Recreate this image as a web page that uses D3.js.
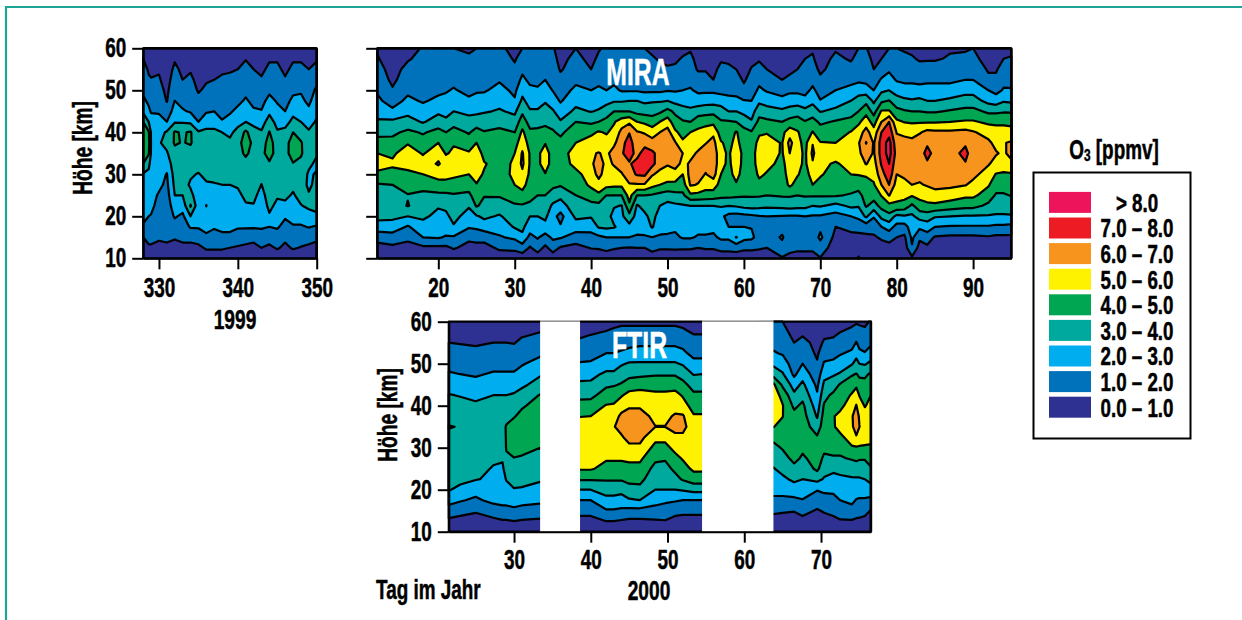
<!DOCTYPE html>
<html>
<head>
<meta charset="utf-8">
<script src="https://cdn.jsdelivr.net/npm/d3@7"></script>
<style>
    html, body { margin: 0; padding: 0; background: #fff; }
    svg { display: block; }
    text { font-family: "Liberation Sans", sans-serif; font-weight: bold; fill: #000; stroke: #000; stroke-width: .5px; }
    .tick text { font-size: 27px; }
    .axis path, .axis line { stroke: #000; stroke-width: 2px; }
    .contour { stroke: #000; stroke-width: 2.2px; stroke-linejoin: round; }
</style>
</head>
<body>
<div id="chart"></div>
<script>

// altitude rows of every grid, km
const altitudes = [10,12.5,15,17.5,20,22.5,25,27.5,30,32.5,35,37.5,40,42.5,45,47.5,50,52.5,55,57.5,60];

const levels = [0,1,2,3,4,5,6,7,8];
const levelColors = ["#2e3192","#0072bc","#00aeef","#00a99d","#00a651","#fff200","#f7941d","#ed1c24","#ed145b"];

const altTicks = [10,20,30,40,50,60];
const legendLabels = ["> 8.0","7.0 – 8.0","6.0 – 7.0","5.0 – 6.0","4.0 – 5.0","3.0 – 4.0","2.0 – 3.0","1.0 – 2.0","0.0 – 1.0"];
const legendColors = ["#ed145b","#ed1c24","#f7941d","#fff200","#00a651","#00a99d","#00aeef","#0072bc","#2e3192"];

// 1999 panel, one row of ppmv per day
const days1999 = [328,328.7,329,330,331,332,333,334,335,336,337,338,339,340,341,342,343,344,345,346,347,348,349,350];
const ticks1999 = [330,340,350];
const grid1999 = [
[.4,.7,1.0,1.9,2.2,2.4,2.5,2.6,2.9,4.0,4.5,4.7,4.4,4.0,2.8,2.2,1.8,1.6,1.3,1.0,.7],
[.5,.9,1.2,1.8,2.0,2.2,2.4,2.5,2.8,3.2,4.1,4.3,4.1,3.0,2.2,1.8,1.6,1.1,.9,.7,.5],
[.5,.9,1.2,1.6,1.95,2.2,2.3,2.4,2.5,2.7,2.9,2.95,2.9,2.5,1.9,1.7,1.4,1.05,.8,.6,.4],
[.4,.8,1.1,1.3,1.5,1.7,1.9,2.2,2.4,2.6,2.8,2.9,2.7,2.3,1.9,1.6,1.3,1.1,.9,.7,.5],
[.5,.9,1.1,1.3,1.4,1.5,1.6,1.8,1.95,2.4,2.9,3.3,3.1,2.0,1.4,.95,.8,.6,.5,.4,.3],
[.3,.6,1.1,1.6,2.1,2.5,3.0,3.2,3.4,3.6,3.7,4.1,4.1,2.9,2.4,2.0,1.7,1.5,1.2,.9,.7],
[.4,.8,1.2,1.5,1.8,2.4,3.0,3.3,3.5,3.6,3.7,3.95,3.9,2.9,2.1,1.7,1.4,1.0,.8,.6,.4],
[.4,.8,1.2,2.1,3.0,4.1,3.2,2.9,3.1,3.5,3.6,4.1,4.1,2.8,1.9,1.7,1.5,1.2,.9,.7,.5],
[.4,.8,1.4,2.1,2.3,2.4,2.6,2.8,2.95,3.3,3.5,3.4,3.1,2.0,1.7,1.3,.9,.7,.6,.4,.3],
[.5,1.1,1.8,2.3,2.6,3.02,2.7,2.9,3.2,3.4,3.5,3.4,3.2,2.6,1.9,1.5,1.2,.9,.7,.5,.3],
[.5,1.1,1.6,2.1,2.3,2.5,2.7,2.95,3.2,3.4,3.5,3.4,3.2,2.6,2.0,1.6,1.3,1.0,.8,.6,.4],
[.5,1.1,1.8,2.2,2.4,2.6,2.8,3.0,3.3,3.5,3.5,3.3,3.0,2.05,1.8,1.6,1.4,1.1,.9,.7,.5],
[.5,1.0,1.8,2.2,2.4,2.6,2.8,3.0,3.4,3.6,3.6,3.2,2.8,2.3,1.9,1.7,1.4,1.2,.9,.7,.5],
[.4,.9,1.5,2.1,2.3,2.6,2.8,3.1,3.4,3.7,3.8,3.7,3.3,2.7,2.2,1.8,1.6,1.3,1.0,.8,.6],
[.4,.8,1.4,2.1,2.5,2.9,3.2,3.4,3.6,3.8,4.1,4.4,4.2,3.0,2.5,2.1,1.8,1.6,1.3,.95,.7],
[.4,.7,1.3,2.1,2.5,2.95,3.2,3.4,3.5,3.7,3.8,3.8,3.4,2.7,2.1,1.8,1.5,1.3,1.0,.8,.6],
[.4,1.0,1.6,2.1,2.3,2.5,2.7,2.98,3.3,3.6,3.8,3.5,3.1,2.6,2.05,1.7,1.4,1.1,.8,.6,.4],
[.4,.8,1.4,2.0,2.9,3.2,3.4,3.6,3.7,3.9,4.3,4.4,4.05,3.4,2.8,2.3,1.8,1.6,1.2,.9,.6],
[.4,1.1,1.6,2.1,2.4,2.8,3.1,3.3,3.5,3.6,3.7,3.5,3.1,2.7,2.3,1.9,1.6,1.4,1.2,.9,.6],
[.4,.8,1.2,1.7,2.1,2.8,3.2,3.4,3.5,3.6,3.7,3.6,3.3,2.6,2.0,1.7,1.4,1.1,.8,.6,.4],
[.4,1.1,1.5,1.95,2.2,2.6,2.9,3.2,3.6,3.95,4.4,4.5,4.0,3.3,2.7,2.2,1.8,1.6,1.2,.9,.6],
[.4,.95,1.4,1.9,2.4,2.95,3.3,3.5,3.6,3.8,4.1,4.1,3.5,3.0,2.6,2.2,1.9,1.6,1.2,.9,.6],
[.4,.8,1.4,2.05,2.6,3.2,3.1,2.8,2.85,3.2,3.5,3.3,3.1,2.7,2.2,1.8,1.5,1.2,1.0,.7,.5],
[.4,.7,1.2,1.9,2.8,3.3,3.4,3.3,3.1,2.8,3.1,3.4,3.3,3.1,2.8,2.5,2.2,1.7,1.3,.9,.6]
];

// MIRA panel (2000)
const daysMira = [12,14,16,18,20,21,22,24,25,26,28,30,31,32,33,34,35,36,38,40,41,42,43,44,45,46,47,48,49,50,51,52,53,54,55,56,57,58,59,60,61,62,63,65,66,67,68,69,70,72,74,75,76,77,78,79,80,81,82,83,84,85,87,89,90,92,93,94,95];
const ticksMira = [20,30,40,50,60,70,80,90];
const gridMira = [
[.5,.8,1.2,2.7,3.2,3.5,3.7,3.9,4.8,5.4,5.0,4.4,3.7,3.1,2.7,2.2,1.9,1.6,1.4,1.1,.9],
[.4,.8,1.5,2.6,3.2,3.5,3.7,4.0,4.6,5.2,4.8,4.3,3.8,3.2,2.2,1.6,1.1,.8,.6,.4,.3],
[.4,.7,1.2,1.9,3.0,4.05,3.95,4.4,4.8,5.3,5.6,4.9,4.2,3.4,2.7,2.2,1.8,1.5,1.3,.9,.6],
[.4,.8,2.0,2.6,3.2,3.5,3.8,4.3,5.0,5.5,4.9,4.4,3.9,2.9,2.4,1.9,1.7,1.6,1.5,1.3,1.1],
[.4,.8,2.1,2.4,2.7,3.1,3.8,4.6,5.4,6.1,5.7,5.0,4.3,3.5,2.8,2.2,1.8,1.6,1.4,1.2,1.0],
[.4,.8,1.9,2.5,2.8,3.2,3.8,4.7,5.3,5.6,4.9,4.4,4.0,3.2,2.7,2.3,1.9,1.6,1.4,1.2,1.1],
[.3,1.1,1.9,2.9,3.3,3.6,3.9,4.6,5.2,5.5,5.2,4.9,4.4,3.6,3.0,2.6,2.1,1.7,1.5,1.3,1.0],
[.3,.7,1.2,2.1,2.6,3.1,3.8,4.4,5.0,5.5,5.1,4.5,3.9,3.3,2.8,2.2,1.7,1.5,1.3,1.1,.9],
[.3,.7,1.3,2.2,2.9,4.1,4.5,4.95,5.3,5.5,5.7,5.0,4.4,3.5,2.8,2.3,1.9,1.6,1.4,1.2,1.0],
[.3,.7,1.3,2.5,3.2,3.7,4.05,4.5,4.9,5.1,4.6,4.4,4.05,3.6,2.9,2.4,1.9,1.6,1.4,1.2,1.0],
[.5,1.15,1.9,2.4,2.9,3.5,4.1,4.3,4.4,4.5,4.5,4.4,4.2,3.7,3.1,2.7,2.3,1.9,1.7,1.5,1.2],
[.5,1.2,2.2,3.1,3.5,3.9,4.4,5.0,5.3,5.2,5.0,4.6,4.0,3.4,2.8,2.1,1.8,1.5,1.2,.9,.7],
[.5,1.5,2.8,3.2,3.5,3.9,4.7,5.3,5.8,6.2,6.1,5.6,5.2,4.5,3.8,3.2,2.7,2.2,1.8,1.4,1.0],
[.3,.9,1.7,2.5,3.0,3.8,4.3,4.6,4.8,4.9,4.9,4.6,4.2,3.6,3.1,2.6,2.2,1.8,1.6,1.4,1.2],
[.5,1.4,2.1,2.6,3.0,3.5,4.0,4.3,4.6,4.8,4.8,4.6,4.2,3.7,3.1,2.6,2.1,1.8,1.6,1.4,1.2],
[.4,.8,1.6,2.7,3.2,3.6,4.0,4.5,4.95,5.4,5.4,4.95,4.3,3.8,3.4,2.9,2.5,2.0,1.7,1.4,1.1],
[.5,1.4,2.2,2.4,2.3,2.8,3.6,4.2,4.5,4.6,4.6,4.4,4.1,3.7,3.1,2.5,1.95,1.7,1.5,1.3,1.1],
[.3,.9,2.1,2.1,1.7,2.5,3.3,4.1,4.3,4.5,4.5,4.3,3.8,3.1,2.5,1.9,1.6,1.3,.9,.7,.5],
[.3,.7,1.5,2.5,3.2,3.7,4.0,4.4,4.7,5.3,5.5,5.0,4.6,4.0,3.2,2.7,2.2,1.8,1.5,1.3,1.0],
[.3,1.05,1.7,2.35,3.1,3.7,4.5,5.2,5.5,5.8,5.9,5.4,4.8,3.8,2.95,2.5,2.0,1.5,1.0,.7,.5],
[.3,1.1,1.8,3.1,3.4,3.7,4.8,5.6,6.3,6.5,6.05,5.5,5.1,4.0,3.1,2.6,2.2,1.7,1.5,1.2,.9],
[.3,1.3,2.0,3.2,3.5,3.8,4.0,5.3,5.5,5.7,5.8,5.4,4.9,4.3,3.5,2.7,2.0,1.8,1.6,1.4,1.2],
[.3,1.1,2.0,3.1,2.6,3.1,4.0,5.2,5.6,6.1,6.4,5.8,5.3,4.9,4.0,2.9,2.2,1.8,1.6,1.4,1.2],
[.3,1.0,2.0,2.6,2.8,2.95,4.0,5.2,5.9,6.5,6.9,6.7,6.3,5.5,4.0,2.9,1.9,1.7,1.5,1.3,1.1],
[.3,.95,2.0,2.7,3.7,4.8,5.4,5.9,6.6,6.9,7.4,7.4,6.95,5.8,4.0,3.0,1.9,1.7,1.5,1.3,1.1],
[.3,1.0,1.9,2.3,2.6,2.9,4.0,5.9,7.1,7.3,6.7,6.4,6.1,5.0,3.7,3.0,1.9,1.7,1.5,1.3,1.1],
[.3,1.0,1.9,2.4,2.8,3.3,4.0,5.9,7.2,7.6,7.4,6.7,5.9,4.8,3.6,2.8,1.8,1.6,1.4,1.2,1.0],
[.5,1.3,2.0,3.1,3.3,3.6,3.9,5.3,6.1,7.3,7.2,6.4,5.5,4.5,3.6,2.9,1.8,1.6,1.4,1.1,.8],
[.4,1.1,1.9,2.3,2.6,3.0,3.7,5.0,5.7,6.4,6.6,6.3,6.0,5.0,3.8,2.9,1.8,1.5,1.2,.9,.7],
[.4,1.1,1.9,2.2,2.4,2.7,3.5,4.8,5.5,6.1,6.5,6.6,6.4,5.5,4.3,3.0,1.95,1.6,1.1,.8,.6],
[.5,1.1,1.8,2.2,2.4,2.8,3.7,4.7,5.7,6.3,6.5,6.1,5.2,4.4,3.8,2.7,1.9,1.6,1.2,.8,.6],
[.4,1.1,2.1,2.3,2.5,2.9,3.8,4.5,5.0,5.8,6.0,5.2,4.6,4.1,3.4,2.6,2.0,1.7,1.4,1.1,.7],
[.4,1.1,2.1,2.4,2.6,3.0,4.8,6.1,6.4,6.1,5.8,5.4,5.0,4.0,3.2,2.6,2.1,1.7,1.4,1.2,.9],
[.3,1.0,1.9,2.3,2.6,3.0,4.7,5.95,6.3,6.4,6.1,5.7,5.2,4.6,3.5,2.5,1.8,1.4,.9,.7,.5],
[.3,1.1,1.9,2.3,2.6,3.0,4.6,5.4,5.95,6.3,6.5,5.95,5.4,4.7,3.6,2.6,1.8,1.4,.9,.7,.5],
[.3,1.1,1.8,2.3,2.6,3.0,4.5,5.5,6.4,6.6,6.6,6.3,5.8,4.7,3.7,2.6,1.8,1.0,.8,.6,.4],
[.4,1.3,2.2,2.3,2.2,3.1,4.3,4.6,5.0,5.3,5.3,5.1,4.5,4.1,3.5,2.5,1.7,1.1,1.2,.9,.6],
[.4,1.3,2.2,2.0,1.7,3.0,4.3,4.5,4.7,4.8,4.85,4.7,4.4,4.1,3.0,2.3,1.7,1.4,1.1,.9,.7],
[.4,1.4,3.05,2.0,1.6,3.1,4.2,4.9,5.3,5.5,5.6,5.3,5.1,4.0,3.0,2.3,1.6,1.3,1.0,.8,.6],
[.4,1.2,2.3,2.0,1.7,3.3,4.1,4.4,4.6,4.7,4.7,4.5,4.3,3.6,2.7,2.05,1.2,.9,.7,.5,.4],
[.4,1.2,2.2,1.95,1.8,3.4,4.1,4.3,4.4,4.5,4.5,4.3,4.1,3.1,2.6,2.0,1.5,1.3,1.05,.8,.6],
[.4,1.1,1.6,1.8,1.95,3.3,4.1,4.7,5.2,5.5,5.6,5.4,4.8,4.3,3.6,2.8,2.2,1.7,1.3,.9,.7],
[.4,1.0,1.5,1.8,2.0,3.2,4.0,4.5,4.9,5.3,5.5,5.3,4.95,4.2,3.4,2.6,1.9,1.5,1.0,.8,.6],
[.9,1.7,2.1,1.7,1.95,3.3,4.1,4.4,4.6,4.7,4.9,4.95,4.7,4.0,3.2,2.3,1.6,1.0,.8,.6,.4],
[.7,1.3,1.5,1.7,1.9,3.4,4.1,5.2,5.4,5.6,6.0,6.3,5.6,4.3,3.4,2.5,1.8,1.2,.8,.6,.4],
[.6,1.2,1.4,1.7,1.9,3.3,4.0,4.6,5.1,5.3,5.4,5.3,5.1,4.4,3.6,2.5,1.8,1.3,1.0,.8,.6],
[.6,1.2,1.4,1.7,2.0,3.3,4.1,4.4,4.6,4.8,4.8,4.7,4.5,4.05,3.3,2.3,1.7,1.5,1.3,1.0,.7],
[.6,1.2,1.4,1.6,1.9,3.0,4.1,5.0,5.4,5.9,6.2,5.95,5.05,4.4,3.4,2.8,2.2,1.7,1.4,1.1,.9],
[.95,1.5,2.2,1.8,1.9,3.1,4.1,4.7,5.1,5.2,5.2,5.05,4.5,3.8,2.95,2.05,1.6,1.2,.8,.6,.4],
[.3,.5,.7,1.0,1.6,2.7,4.1,4.3,4.6,4.9,5.4,5.0,4.6,4.1,3.2,2.6,2.0,1.7,1.4,1.2,.9],
[.3,.5,.7,1.3,2.0,3.2,3.9,4.5,5.0,5.3,5.5,5.5,5.05,4.3,3.6,3.0,2.2,1.8,1.3,.9,.7],
[1.1,.5,.7,1.4,2.2,3.1,3.7,4.4,5.05,5.5,5.8,5.9,5.5,4.8,4.0,3.4,2.6,1.8,1.6,1.3,1.0],
[.3,.5,.8,1.4,3.2,4.1,4.4,4.7,5.1,6.05,6.5,7.05,6.4,5.5,4.7,3.7,2.5,1.7,1.5,1.3,1.05],
[.3,.6,.9,1.3,2.1,3.6,4.4,4.9,5.3,5.6,5.9,5.9,5.4,4.6,3.6,2.8,2.0,1.5,1.0,.8,.6],
[.3,.7,1.1,2.0,3.3,4.3,5.05,6.0,6.6,7.1,7.4,7.4,7.0,6.0,5.1,3.8,2.8,2.1,1.5,1.0,.7],
[.3,.6,1.4,2.4,3.7,4.7,6.05,7.0,7.6,8.0,8.4,8.4,7.6,7.0,5.1,4.05,3.0,2.4,1.85,1.4,1.0],
[.3,.6,1.0,1.7,2.7,4.8,5.3,5.6,6.0,6.3,6.6,6.3,5.95,5.2,4.3,3.4,2.6,1.9,1.6,1.3,1.0],
[.3,.5,.8,1.6,2.9,4.6,5.3,5.7,6.2,6.4,6.5,6.3,5.8,4.95,4.1,3.2,2.4,1.8,1.6,1.2,.9],
[.8,1.9,2.2,2.5,2.8,3.8,5.1,6.0,6.3,6.5,6.6,6.3,5.6,4.9,4.0,3.1,2.4,1.8,1.5,1.1,.8],
[.2,.6,1.2,2.2,3.4,4.6,5.3,5.9,6.3,6.5,6.7,6.6,5.9,4.9,4.0,3.2,2.4,1.7,1.3,.9,.7],
[.2,.8,1.5,2.5,3.5,4.8,5.4,6.1,6.5,6.9,7.2,6.9,6.3,4.9,3.9,3.0,2.4,1.8,1.4,.9,.6],
[.2,.5,.9,2.0,3.1,4.8,5.6,6.3,6.5,6.7,6.8,6.7,6.2,4.9,3.9,3.0,2.4,1.8,1.4,.9,.6],
[.2,.5,.8,1.9,3.0,4.5,5.5,6.2,6.5,6.7,6.7,6.6,6.2,5.0,4.1,3.2,2.4,1.8,1.4,1.1,.9],
[.2,.4,.8,1.9,2.9,4.3,5.2,6.05,6.5,6.95,7.2,6.9,6.3,5.1,4.3,3.4,2.7,2.0,1.6,1.2,.9],
[.2,.4,.8,1.9,2.9,4.3,5.2,5.7,6.3,6.5,6.6,6.4,6.1,5.1,4.3,3.4,2.7,2.0,1.6,1.2,1.0],
[.2,.4,.9,1.9,2.9,3.8,4.5,5.1,5.5,6.1,6.5,6.2,5.6,4.8,3.8,2.7,2.0,1.2,.9,.7,.5],
[.2,.4,.8,1.8,2.9,3.4,3.9,4.4,4.95,5.6,6.1,5.7,5.4,4.8,3.8,2.5,1.7,1.2,.9,.7,.6],
[.2,.4,.8,1.8,2.9,3.4,3.9,4.4,4.9,5.4,5.8,5.95,5.4,4.8,3.9,2.9,2.1,1.7,1.4,1.0,.7],
[.2,.4,.8,1.7,2.9,3.5,4.05,4.5,4.9,5.7,6.4,6.1,5.4,4.7,3.9,2.8,2.1,1.6,1.4,1.1,.7]
];

// FTIR panel (2000), with its two gaps in the measurements
const daysFtir = [21.5,23,25,27.3,28.5,29,30,31,33.4,38.6,40,42,43,44,45,46.4,48.4,49.7,51,52,53.4,54.5,63.8,65,66.5,67.6,69.5,70.4,71.6,72.5,74,74.6,75,75.7,76.5];
const ticksFtir = [30,40,50,60,70];
const gapsFtir = [[33.4,38.6],[54.5,63.8]];
const gridFtir = [
[.3,.8,1.5,2.4,3.05,3.2,3.3,3.4,3.5,3.8,4.05,3.7,3.4,3.05,2.6,2.1,1.7,1.4,1.0,.7,.4],
[.3,.7,1.3,2.1,2.8,3.2,3.3,3.4,3.5,3.7,3.95,3.6,3.3,2.95,2.5,2.0,1.6,1.3,.95,.7,.4],
[.3,.6,1.1,1.8,2.4,3.05,3.2,3.3,3.5,3.6,3.6,3.4,3.15,2.8,2.3,1.9,1.5,1.2,.9,.6,.4],
[.3,.8,1.4,2.3,2.6,2.85,2.95,3.1,3.5,3.6,3.6,3.5,3.3,3.0,2.5,2.1,1.7,1.4,1.0,.7,.4],
[.3,.9,1.7,2.3,2.5,2.7,2.85,3.1,3.5,3.7,3.8,3.6,3.3,3.0,2.6,2.1,1.7,1.4,1.0,.7,.4],
[.3,.9,1.7,2.3,2.7,3.05,3.4,3.9,4.05,4.05,4.05,3.8,3.5,3.0,2.6,2.1,1.7,1.4,1.0,.7,.4],
[.4,1.0,1.8,2.4,2.95,3.3,3.6,3.98,4.3,4.4,4.3,3.95,3.5,3.1,2.6,2.1,1.7,1.4,.95,.7,.4],
[.4,.9,1.7,2.3,2.9,3.3,3.6,3.9,4.3,4.5,4.4,4.2,3.9,3.4,2.8,2.4,1.9,1.5,1.2,.8,.5],
[.3,.8,1.6,2.2,2.7,3.1,3.4,3.7,4.0,4.4,4.6,4.5,4.3,4.05,3.4,2.9,2.4,1.8,1.5,1.0,.7],
[.3,.7,1.3,2.0,3.0,4.1,5.1,5.3,5.4,5.5,5.6,4.95,4.4,3.7,3.2,2.6,2.05,1.7,1.3,.6,.4],
[.3,.7,1.3,2.0,3.0,4.1,5.1,5.3,5.4,5.6,5.7,5.0,4.5,3.7,3.2,2.7,2.1,1.7,1.3,.9,.5],
[.3,1.0,1.9,2.7,3.4,4.1,4.7,5.1,5.3,5.5,5.7,5.5,5.05,4.5,3.8,3.2,2.5,2.0,1.5,1.05,.6],
[.3,1.0,1.9,2.7,3.4,4.1,4.7,5.1,5.4,5.7,5.95,5.6,5.1,4.6,3.9,3.2,2.5,2.0,1.6,1.2,.7],
[.4,.9,1.8,2.6,3.3,4.1,4.7,5.1,5.5,5.9,6.3,6.2,5.6,4.9,4.1,3.5,2.9,2.1,1.7,1.3,.8],
[.3,.8,1.7,2.9,3.6,4.3,4.7,5.2,5.8,6.3,6.5,6.3,5.9,5.3,4.5,3.7,3.1,2.3,1.7,1.3,.8],
[.3,.8,1.7,3.0,3.7,4.3,4.7,5.2,5.8,6.3,6.5,6.3,5.9,5.4,4.6,3.8,3.1,2.4,1.8,1.3,.8],
[.3,.9,1.6,2.4,3.0,3.3,3.7,4.2,4.7,5.3,6.02,5.8,5.5,5.2,4.6,3.9,3.1,2.4,1.8,1.3,.8],
[.3,.95,1.5,2.2,3.0,3.3,3.7,4.1,4.7,5.3,6.02,5.8,5.5,5.2,4.6,3.9,3.1,2.4,1.8,1.3,.8],
[.3,.7,1.3,2.1,3.0,3.7,4.2,4.7,5.3,5.8,6.3,6.1,5.7,5.3,4.6,3.9,3.1,2.4,1.8,1.3,.8],
[.3,.7,1.2,2.0,3.1,4.1,4.6,5.1,5.4,5.8,6.3,6.1,5.4,4.9,4.3,3.6,2.9,2.2,1.7,1.2,.7],
[.3,.7,1.2,2.0,3.3,4.5,5.2,5.4,5.5,5.5,5.4,5.1,4.6,4.2,3.6,2.95,2.3,1.7,1.4,.9,.6],
[.3,.7,1.2,2.0,3.3,4.5,5.2,5.4,5.5,5.5,5.4,5.1,4.6,4.2,3.6,3.0,2.3,1.7,1.4,.9,.6],
[.3,.6,1.2,1.8,2.3,2.6,2.95,3.3,3.7,4.3,5.02,5.3,5.5,5.5,5.2,3.6,2.8,2.1,1.7,1.4,1.1],
[.3,.6,1.1,1.8,2.3,2.8,3.3,3.6,4.1,4.4,4.8,5.02,5.05,4.7,3.8,3.1,2.5,1.9,1.6,1.3,1.0],
[.3,.5,1.05,1.8,2.5,3.2,3.7,4.3,4.5,4.6,4.5,4.3,3.8,3.2,2.6,1.8,1.5,1.3,1.0,.7,.4],
[.3,.7,1.3,1.95,2.5,3.0,3.4,3.85,4.2,4.4,4.5,4.4,4.2,3.7,3.2,2.6,2.0,1.6,1.3,.8,.5],
[.2,.5,.9,1.5,2.05,3.3,4.2,4.4,4.5,4.1,3.5,2.9,2.5,2.1,1.8,1.4,1.1,.85,.7,.5,.3],
[.2,.6,1.1,1.6,2.2,2.9,3.4,3.85,4.2,4.4,4.5,4.4,4.1,3.7,3.2,2.7,2.1,1.6,1.1,.8,.5],
[.2,.7,1.3,1.7,2.2,2.7,3.2,3.9,4.3,4.6,4.9,4.95,4.6,4.2,3.5,2.9,2.2,1.7,1.2,.8,.5],
[.2,.9,1.5,2.0,2.4,2.8,3.3,3.9,4.3,4.8,5.3,5.2,4.8,4.4,4.1,3.1,2.5,1.9,1.4,1.0,.6],
[.2,.9,1.7,2.2,2.6,2.9,3.4,4.1,4.9,5.4,5.8,5.9,5.4,5.1,4.5,3.9,2.9,2.2,1.6,1.2,.8],
[.2,.8,1.5,1.95,2.4,2.9,3.5,4.2,4.9,5.9,6.5,6.4,6.05,5.5,4.8,4.05,3.3,2.7,2.05,1.4,.9],
[.2,.8,1.4,1.9,2.4,2.9,3.5,4.1,4.9,5.5,6.02,5.9,5.4,4.95,4.4,3.8,3.0,2.2,1.7,1.2,.9],
[.2,.7,1.3,1.9,2.4,3.0,3.5,4.1,4.9,5.3,5.5,5.3,4.95,4.6,4.3,3.8,2.9,2.05,1.6,1.1,.9],
[.2,.5,.95,1.7,2.6,3.3,3.9,4.4,4.9,5.2,5.4,5.4,5.2,5.0,4.5,4.15,3.2,2.5,1.8,1.3,1.05]
];

const width = 1242, height = 620;

let svg = d3.select("#chart").append("svg")
    .attr("width", width)
    .attr("height", height);

// frame around the figure
svg.append("path")
    .attr("d", "M6,620V7H1242")
    .attr("fill", "none")
    .attr("stroke", "#1fa595")
    .attr("stroke-width", 2.2);

/*
 * draws one contour panel from a day x altitude grid
 */
function contourPanel(opts) {
    let x = d3.scaleLinear().domain(opts.xDomain).range(opts.xRange);
    let y = d3.scaleLinear().domain([10, 60]).range(opts.yRange);

    let n = opts.days.length, m = altitudes.length;
    let values = new Array(n * m);
    opts.grid.forEach((col, i) => col.forEach((v, j) => { values[i + j * n] = v; }));

    // d3.contours puts sample i at i + 0.5, the days and rows need not be regular
    let gridX = d3.scaleLinear().domain(opts.days.map((d, i) => i + 0.5)).range(opts.days.map(x)).clamp(true);
    let gridY = d3.scaleLinear().domain(altitudes.map((d, i) => i + 0.5)).range(altitudes.map(y)).clamp(true);

    let contours = d3.contours().size([n, m]).thresholds(levels)(values);
    let path = d3.geoPath(d3.geoTransform({
        point: function(px, py) { this.stream.point(gridX(px), gridY(py)); }
    }));

    let g = svg.append("g");

    g.selectAll("path.contour")
        .data(contours)
        .enter()
        .append("path")
        .attr("class", "contour")
        .attr("d", path)
        .attr("fill", (d, i) => levelColors[i]);

    (opts.gaps || []).forEach(gap => {
        g.append("rect")
            .attr("x", x(gap[0]))
            .attr("y", opts.yRange[1] - 1.5)
            .attr("width", x(gap[1]) - x(gap[0]))
            .attr("height", opts.yRange[0] - opts.yRange[1] + 1.5)
            .attr("fill", "#fff");
        g.append("line")
            .attr("x1", x(gap[0])).attr("x2", x(gap[1]))
            .attr("y1", opts.yRange[1] - 0.5).attr("y2", opts.yRange[1] - 0.5)
            .attr("stroke", "#666").attr("stroke-width", 1);
    });

    let xAxis = d3.axisBottom(x).tickValues(opts.ticks).tickSize(11).tickSizeOuter(0).tickPadding(opts.xPad).tickFormat(d3.format("d"));
    let yAxis = d3.axisLeft(y).tickValues(altTicks).tickSize(11).tickSizeOuter(0).tickPadding(6).tickFormat(d3.format("d"));

    g.append("g").attr("class", "axis")
        .attr("transform", `translate(0,${opts.yRange[0]})`)
        .call(xAxis);
    let yG = g.append("g").attr("class", "axis")
        .attr("transform", `translate(${opts.xRange[0]},0)`)
        .call(yAxis);

    if (!opts.yLabels) yG.selectAll(".tick text").remove();

    g.selectAll(".axis .tick text")
        .attr("font-size", null)
        .attr("font-family", null)
        .attr("transform", function() {
            let tx = +this.getAttribute("x") || 0;
            return `translate(${tx},0) scale(0.7,1) translate(${-tx},0)`;
        });

    if (!opts.gaps) {
        g.append("line")
            .attr("x1", opts.xRange[0]).attr("x2", opts.xRange[1])
            .attr("y1", opts.yRange[1]).attr("y2", opts.yRange[1])
            .attr("stroke", "#000").attr("stroke-width", 2.4);
    }
    g.append("line")
        .attr("x1", opts.xRange[1]).attr("x2", opts.xRange[1])
        .attr("y1", opts.yRange[1]).attr("y2", opts.yRange[0])
        .attr("stroke", "#000").attr("stroke-width", 2.6);
}

contourPanel({
    days: days1999, grid: grid1999, ticks: ticks1999, xPad: 9,
    xDomain: [328, 350], xRange: [143.2, 316.7], yRange: [258.3, 48.3], yLabels: true
});
contourPanel({
    days: daysMira, grid: gridMira, ticks: ticksMira, xPad: 9,
    xDomain: [12, 95], xRange: [377.2, 1011.3], yRange: [258.3, 48.3], yLabels: false
});
contourPanel({
    days: daysFtir, grid: gridFtir, ticks: ticksFtir, gaps: gapsFtir, xPad: 7,
    xDomain: [21.5, 76.5], xRange: [448.8, 870.9], yRange: [531.7, 321.7], yLabels: true
});

// the lettering of the original is condensed, squeeze the text horizontally
function label(txt, place, size, color, anchor) {
    return svg.append("text")
        .attr("transform", place)
        .attr("font-size", size)
        .attr("text-anchor", anchor || "middle")
        .attr("dominant-baseline", "central")
        .style("fill", color || "#000")
        .style("stroke", color || "#000")
        .text(txt);
}

label("MIRA", "translate(638,72) scale(0.67,1)", 37, "#fff");
label("FTIR", "translate(639.5,345) scale(0.67,1)", 37, "#fff");
label("1999", "translate(235,320) scale(0.71,1)", 27);
label("2000", "translate(649,591) scale(0.71,1)", 27);
label("Tag im Jahr", "translate(376,590) scale(0.7,1)", 27, "#000", "start");

label("Höhe [km]", "translate(83,148) rotate(-90) scale(0.71,1)", 27);
label("Höhe [km]", "translate(388,415) rotate(-90) scale(0.71,1)", 27);

// legend
let legendTitle = label("O", "translate(1114,150) scale(0.7,1)", 27);
legendTitle.append("tspan").attr("font-size", 17).attr("dy", 5).text("3");
legendTitle.append("tspan").attr("dy", -5).text(" [ppmv]");

svg.append("rect")
    .attr("x", 1033.5).attr("y", 172.5)
    .attr("width", 157).attr("height", 266)
    .attr("fill", "#fff").attr("stroke", "#000").attr("stroke-width", 2);

let legendY = d3.scaleBand().domain(legendLabels).range([189.5, 419.9]);

svg.selectAll("rect.swatch")
    .data(legendLabels)
    .enter()
    .append("rect")
    .attr("class", "swatch")
    .attr("x", 1049)
    .attr("y", d => legendY(d) + 2.4)
    .attr("width", 42)
    .attr("height", 21)
    .attr("fill", (d, i) => legendColors[i]);

svg.selectAll("text.legendLabel")
    .data(legendLabels)
    .enter()
    .append("text")
    .attr("class", "legendLabel")
    .attr("transform", d => `translate(1137,${legendY(d) + legendY.bandwidth() / 2 + 1}) scale(0.75,1)`)
    .attr("font-size", 25)
    .attr("text-anchor", "middle")
    .attr("dominant-baseline", "central")
    .text(d => d);

</script>
</body>
</html>
